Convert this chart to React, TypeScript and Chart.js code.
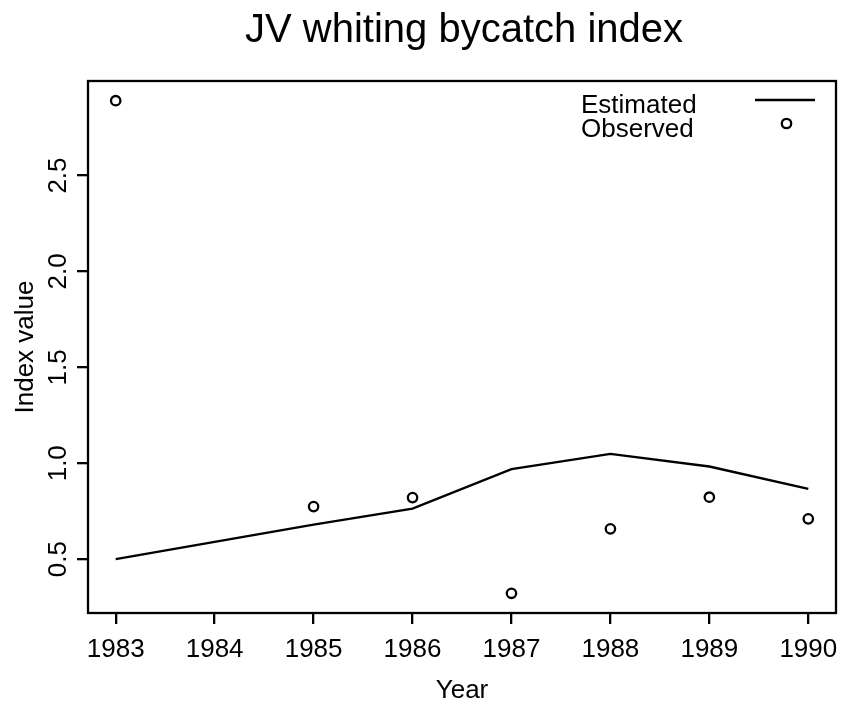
import React, { useEffect, useRef } from "react";
import { Chart, registerables } from "chart.js";

Chart.register(...registerables);

// ---- data ----
const years = [1983, 1984, 1985, 1986, 1987, 1988, 1989, 1990];
const estimated = [0.5, 0.59, 0.68, 0.764, 0.969, 1.049, 0.983, 0.866];
const obsYears = [1983, 1985, 1986, 1987, 1988, 1989, 1990];
const observed = [2.89, 0.774, 0.821, 0.322, 0.658, 0.823, 0.71];
const xTicks = [1983, 1984, 1985, 1986, 1987, 1988, 1989, 1990];
const yTicks = [0.5, 1.0, 1.5, 2.0, 2.5];
const titleText = "JV whiting bycatch index";
const xLabel = "Year";
const yLabel = "Index value";
const legendLabels = ["Estimated", "Observed"];

const FONT = '"Liberation Sans", Arial, Helvetica, sans-serif';
const LW = 2.3;
const FS = 26;

function extend(vals: number[]): [number, number] {
  const lo = Math.min(...vals);
  const hi = Math.max(...vals);
  const d = (hi - lo) * 0.04;
  return [lo - d, hi + d];
}

const decor = {
  id: "decor",
  afterDraw(chart: any) {
    const { ctx, chartArea: a } = chart;
    ctx.save();
    ctx.strokeStyle = "#000";
    ctx.fillStyle = "#000";
    ctx.lineWidth = LW;
    ctx.strokeRect(a.left, a.top, a.right - a.left, a.bottom - a.top);

    const cx = (a.left + a.right) / 2;
    const cy = (a.top + a.bottom) / 2;
    ctx.textAlign = "center";
    ctx.textBaseline = "alphabetic";
    ctx.font = `40px ${FONT}`;
    ctx.fillText(titleText, cx + 2, 41.5);

    ctx.font = `${FS}px ${FONT}`;
    ctx.fillText(xLabel, cx, 698);
    ctx.save();
    ctx.translate(33.3, cy);
    ctx.rotate(-Math.PI / 2);
    ctx.fillText(yLabel, 0, 0);
    ctx.restore();

    // legend
    ctx.textAlign = "left";
    ctx.fillText(legendLabels[0], 581, 113);
    ctx.fillText(legendLabels[1], 581, 137);
    ctx.beginPath();
    ctx.moveTo(755, 100);
    ctx.lineTo(815, 100);
    ctx.stroke();
    ctx.beginPath();
    ctx.arc(786.5, 123.5, 4.7, 0, Math.PI * 2);
    ctx.stroke();
    ctx.restore();
  },
};

export default function App() {
  const ref = useRef<HTMLCanvasElement | null>(null);

  useEffect(() => {
    if (!ref.current) return;
    const [xMin, xMax] = extend(years);
    const [yMin, yMax] = extend([...estimated, ...observed]);
    const chart = new Chart(ref.current, {
      type: "line",
      data: {
        datasets: [
          {
            label: legendLabels[0],
            data: years.map((x, i) => ({ x, y: estimated[i] })),
            borderColor: "#000",
            borderWidth: LW,
            pointRadius: 0,
            tension: 0,
            fill: false,
          },
          {
            label: legendLabels[1],
            data: obsYears.map((x, i) => ({ x, y: observed[i] })),
            showLine: false,
            pointStyle: "circle",
            pointRadius: 4.7,
            pointBorderWidth: LW,
            pointBorderColor: "#000",
            pointBackgroundColor: "rgba(0,0,0,0)",
            borderColor: "#000",
          },
        ],
      },
      options: {
        animation: false,
        responsive: false,
        maintainAspectRatio: false,
        devicePixelRatio: 1,
        clip: false as any,
        layout: { padding: { top: 81, right: 6, left: 0, bottom: 0 } },
        plugins: {
          legend: { display: false },
          title: { display: false },
          tooltip: { enabled: false },
        },
        scales: {
          x: {
            type: "linear",
            min: xMin,
            max: xMax,
            afterBuildTicks: (s: any) => {
              s.ticks = xTicks.map((v) => ({ value: v }));
            },
            afterFit: (s: any) => {
              s.height = 93;
              s.paddingLeft = 0;
              s.paddingRight = 0;
              s.paddingTop = 0;
              s.paddingBottom = 0;
            },
            border: { display: false },
            grid: {
              display: true,
              drawOnChartArea: false,
              drawTicks: true,
              tickLength: 11,
              color: "#000",
              lineWidth: LW,
            },
            ticks: {
              color: "#000",
              font: { family: FONT, size: FS },
              padding: 10,
              maxRotation: 0,
              minRotation: 0,
              autoSkip: false,
              callback: (v: any) => String(v),
            },
          },
          y: {
            type: "linear",
            min: yMin,
            max: yMax,
            afterBuildTicks: (s: any) => {
              s.ticks = yTicks.map((v) => ({ value: v }));
            },
            afterFit: (s: any) => {
              s.width = 88;
              s.paddingLeft = 0;
              s.paddingRight = 0;
              s.paddingTop = 0;
              s.paddingBottom = 0;
            },
            border: { display: false },
            grid: {
              display: true,
              drawOnChartArea: false,
              drawTicks: true,
              tickLength: 11,
              color: "#000",
              lineWidth: LW,
            },
            ticks: {
              color: "#000",
              font: { family: FONT, size: FS },
              padding: 0,
              minRotation: 90,
              maxRotation: 90,
              crossAlign: "center",
              autoSkip: false,
              callback: (v: any) => Number(v).toFixed(1),
            },
          },
        },
      },
      plugins: [decor],
    });
    return () => chart.destroy();
  }, []);

  return (
    <div style={{ position: "absolute", left: 0, top: 0, width: 843, height: 706, background: "#fff" }}>
      <canvas ref={ref} width={843} height={706} style={{ display: "block" }} />
    </div>
  );
}
